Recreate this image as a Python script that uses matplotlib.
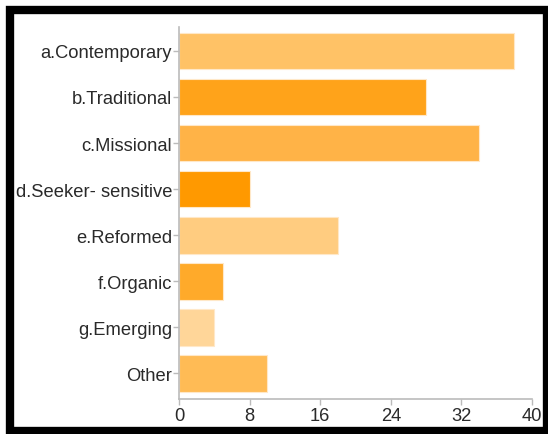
import matplotlib
matplotlib.use('Agg')
import matplotlib.pyplot as plt
from matplotlib.patches import Rectangle

# data
categories = ['a.Contemporary', 'b.Traditional', 'c.Missional', 'd.Seeker- sensitive',
              'e.Reformed', 'f.Organic', 'g.Emerging', 'Other']
counts = [38, 28, 34, 8, 18, 5, 4, 10]
bar_colors = ['#FFC266', '#FFA31A', '#FFB347', '#FF9900',
              '#FFCC80', '#FFAA2A', '#FFD699', '#FFBB55']
xticks = [0, 8, 16, 24, 32, 40]

plt.rcParams['font.family'] = ['Liberation Sans', 'DejaVu Sans']

fig = plt.figure(figsize=(5.48, 4.35), dpi=100)
ax = fig.add_axes([179/548, 35/435, 353/548, 372/435])

pos = list(range(len(categories)))
ax.barh(pos, counts, height=0.8, color=bar_colors, edgecolor='#FFE8C8', linewidth=0.8)

ax.set_ylim(7.56, -0.52)
ax.set_xlim(0, 40)
ax.set_yticks(pos)
ax.set_yticklabels(categories)
ax.set_xticks(xticks)

for side in ['top', 'right']:
    ax.spines[side].set_visible(False)
for side in ['left', 'bottom']:
    ax.spines[side].set_color('#BBBBBB')
    ax.spines[side].set_linewidth(1.2)
ax.tick_params(axis='both', colors='#BBBBBB', labelcolor='#2A2A2A', labelsize=13.2,
               length=4, width=1)
ax.tick_params(axis='x', pad=2)
ax.tick_params(axis='y', pad=1)

# thick black frame round the picture
fig.patches.append(Rectangle((10/548, 3/435), 537/548, 421/435, transform=fig.transFigure,
                             fill=False, edgecolor='black', linewidth=6))

fig.savefig('out.png', dpi=100)
